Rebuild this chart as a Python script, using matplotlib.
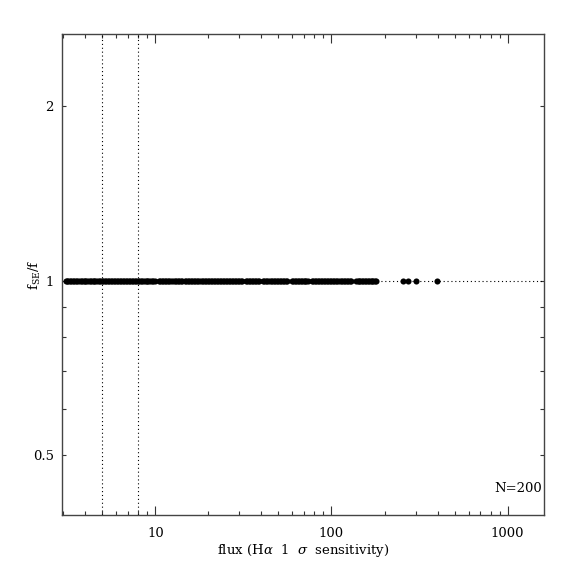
import matplotlib
matplotlib.use("Agg")
import matplotlib.pyplot as plt
import numpy as np
from matplotlib.ticker import FixedLocator, NullFormatter, FixedFormatter

plt.rcParams['font.family'] = ['DejaVu Serif']
plt.rcParams['mathtext.fontset'] = 'dejavuserif'

# flux values (H-alpha 1 sigma sensitivity units)
flux_a = [3.10, 3.15, 3.21, 3.28, 3.34, 3.41, 3.47, 3.55, 3.61, 3.69,
          3.76, 3.83, 3.91, 3.99, 4.06, 4.15, 4.23, 4.31, 4.40, 4.49,
          4.57, 4.67, 4.76, 4.85, 4.95, 5.05, 5.15, 5.25, 5.36, 5.46,
          5.57, 5.69, 5.80, 5.91, 6.03, 6.15, 6.28, 6.40, 6.53, 6.66,
          6.79, 6.93, 7.07, 7.21, 7.35, 7.50, 7.65, 7.80, 7.96, 8.12,
          8.28, 8.45, 8.62, 8.79, 8.96, 9.14, 9.33, 9.51, 9.70, 9.95,
          10.45, 10.66, 10.87, 11.09, 11.31, 11.54, 11.77, 12.00, 12.20, 12.65,
          12.90, 13.16, 13.42, 13.69, 13.96, 14.15, 14.70, 14.99, 15.29, 15.60,
          15.91, 16.23, 16.55, 16.88, 17.22, 17.57, 17.92, 18.28, 18.64, 19.01,
          19.39, 19.78, 20.18, 20.58, 20.99, 21.41, 21.84, 22.28, 22.72, 23.18,
          23.64, 24.11, 24.60, 25.09, 25.59, 26.10, 26.62, 27.16, 27.70, 28.25,
          28.82, 29.40, 29.98, 30.58, 31.20, 32.50, 33.15, 33.81, 34.49, 35.18,
          35.88, 36.60, 37.33, 38.08, 38.84, 40.80, 41.62, 42.45, 43.30, 44.16,
          45.05, 45.95, 46.87, 47.80, 48.76, 49.73, 50.73, 51.74, 52.78, 53.83,
          54.91, 56.00]
flux_b = [59.6, 60.7, 61.9, 63.0, 64.3, 65.5, 66.8, 68.0, 69.4, 70.7, 72.1, 73.5]
flux_c = [77.2, 78.8, 80.4, 82.0, 83.6, 85.3, 87.0, 88.7, 90.5, 92.3, 94.1, 96.0,
          97.9, 99.9, 101.9, 103.9, 106.0, 108.1, 110.3, 112.5, 114.7, 117.0,
          119.4, 121.7, 124.2, 126.7, 129.5]
flux_d = [138.0, 140.6, 143.3, 146.0, 148.8, 151.6, 154.5, 157.4, 160.4, 163.5,
          166.6, 169.8, 173.0, 176.2, 179.0]
flux_e = [255.0, 272.0, 300.0, 396.0]
flux = flux_a + flux_b + flux_c + flux_d + flux_e
ratio = [1.0] * len(flux)

vlines = [5, 8]
hline = 1.0
xticks_major = [10, 100, 1000]
xticks_minor = [3, 4, 5, 6, 7, 8, 9, 20, 30, 40, 50, 60, 70, 80, 90,
                200, 300, 400, 500, 600, 700, 800, 900]
yticks_major = [0.5, 1, 2]
ytick_labels = ["0.5", "1", "2"]
yticks_minor = [0.6, 0.7, 0.8, 0.9]

fig = plt.figure(figsize=(5.74, 5.74), dpi=100)
ax = fig.add_axes([0.108, 0.102, 0.839, 0.838])
ax.set_xscale('log')
ax.set_yscale('log')
ax.set_xlim(2.95, 1600)
ax.set_ylim(0.394, 2.655)

for v in vlines:
    ax.axvline(v, color='black', lw=0.8, ls=(0, (1, 2.5)))
ax.axhline(hline, color='black', lw=0.8, ls=(0, (1, 2.5)))

ax.plot(flux, ratio, 'o', color='black', ms=4.4, mew=0)

ax.xaxis.set_major_locator(FixedLocator(xticks_major))
ax.xaxis.set_minor_locator(FixedLocator(xticks_minor))
ax.xaxis.set_major_formatter(FixedFormatter([str(t) for t in xticks_major]))
ax.xaxis.set_minor_formatter(NullFormatter())
ax.yaxis.set_major_locator(FixedLocator(yticks_major))
ax.yaxis.set_major_formatter(FixedFormatter(ytick_labels))
ax.yaxis.set_minor_locator(FixedLocator(yticks_minor))
ax.yaxis.set_minor_formatter(NullFormatter())

fs = 9.5
ax.tick_params(axis='both', which='both', direction='in', top=True, right=True,
               width=0.8, labelsize=fs, color='#333333')
ax.tick_params(axis='x', which='major', length=6.3, pad=8)
ax.tick_params(axis='x', which='minor', length=3.2)
ax.tick_params(axis='y', which='both', length=3, pad=6)

for s in ax.spines.values():
    s.set_linewidth(1.0)
    s.set_color('#444444')

ax.set_xlabel(r"flux (H$\alpha$  1  $\sigma$  sensitivity)", fontsize=fs, labelpad=2)
ax.set_ylabel(r"$\mathrm{f_{SE}/f}$", fontsize=fs)
ax.yaxis.set_label_coords(-0.04, 0.5)

ax.text(0.997, 0.055, "N=200", transform=ax.transAxes, ha='right', va='center',
        fontsize=fs)

fig.savefig("out.png", dpi=100)
